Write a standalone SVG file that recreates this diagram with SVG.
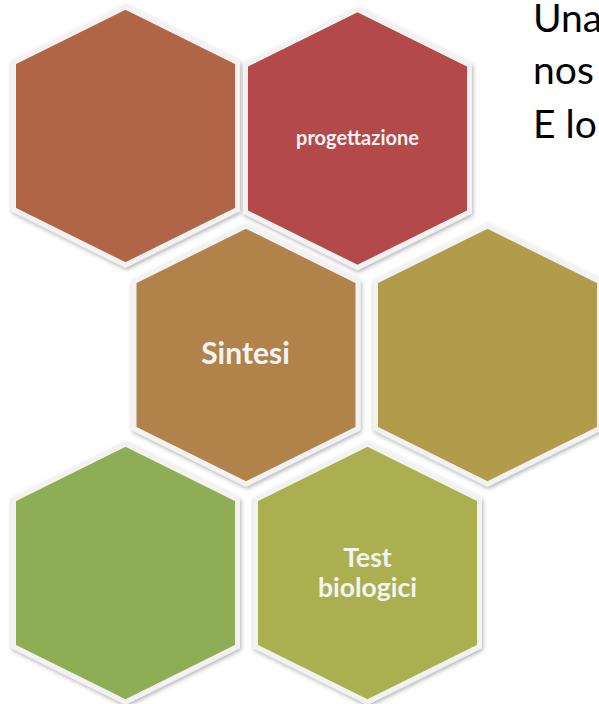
<svg xmlns="http://www.w3.org/2000/svg" width="599" height="704" viewBox="0 0 599 704">
  <style>
    .hex { stroke: #f2f2f2; stroke-width: 5; stroke-linejoin: miter; filter: url(#sh); }
    .lbl { font-family: Lato, "Open Sans", "Liberation Sans", sans-serif; font-weight: bold; fill: #f4f4f4; text-anchor: middle; }
    .side { font-family: Lato, "Open Sans", "Liberation Sans", sans-serif; font-size: 39px; fill: #000; }
  </style>
  <defs>
    <filter id="sh" x="-10%" y="-10%" width="120%" height="120%">
      <feDropShadow dx="1" dy="2" stdDeviation="2" flood-color="#000" flood-opacity="0.3"/>
    </filter>
    <polygon id="hx" points="0,-129 112,-73.5 112,73.5 0,129 -112,73.5 -112,-73.5"/>
  </defs>
  <rect width="599" height="704" fill="#ffffff"/>

  <g id="connectors"></g>

  <g id="hex-top-left">
    <use href="#hx" class="hex" fill="#b16547" transform="translate(125.5,136)"/>
  </g>
  <g id="hex-progettazione">
    <use href="#hx" class="hex" fill="#b44848" transform="translate(357.5,138.5)"/>
    <text class="lbl" x="357.5" y="145" font-size="20">progettazione</text>
  </g>
  <g id="hex-sintesi">
    <use href="#hx" class="hex" fill="#b1824a" transform="translate(246,355)"/>
    <text class="lbl" x="245.5" y="364" font-size="30">Sintesi</text>
  </g>
  <g id="hex-right-olive">
    <use href="#hx" class="hex" fill="#b09c4c" transform="translate(487.5,355)"/>
  </g>
  <g id="hex-bottom-left">
    <use href="#hx" class="hex" fill="#8fad54" transform="translate(125.5,573)"/>
  </g>
  <g id="hex-test-biologici">
    <use href="#hx" class="hex" fill="#aab050" transform="translate(367.5,573)"/>
    <text class="lbl" x="367.5" y="567" font-size="26.5">Test</text>
    <text class="lbl" x="367.5" y="597" font-size="26.5">biologici</text>
  </g>

  <g id="side-text">
    <text class="side" x="533" y="32">Una</text>
    <text class="side" x="533" y="84">nos</text>
    <text class="side" x="533" y="138">E lo</text>
  </g>
</svg>
